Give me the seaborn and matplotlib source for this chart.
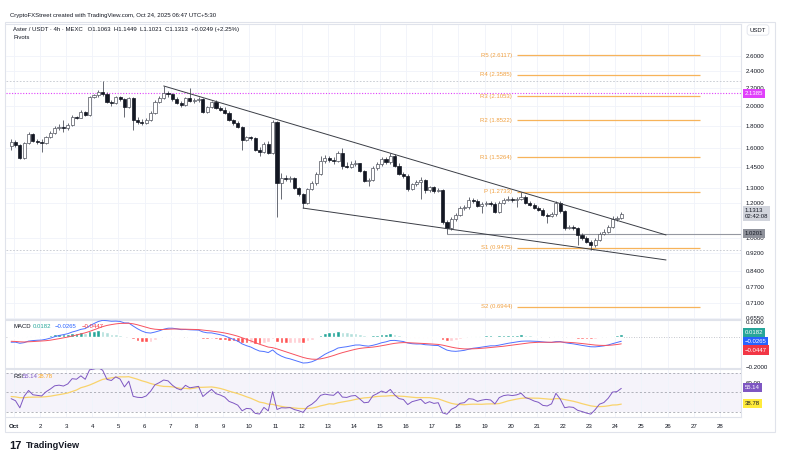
import numpy as np
import pandas as pd
import seaborn as sns
import matplotlib.pyplot as plt
import matplotlib.transforms as mtransforms
from matplotlib.ticker import NullLocator, NullFormatter
from matplotlib.patches import Rectangle

# Aster / USDT, MEXC, 4h candles; first candle opens Sep 30 21:30 (UTC+5:30)
first_open = 1.619
closes = [1.653, 1.627, 1.520, 1.645, 1.724, 1.662, 1.653, 1.645, 1.697, 1.734,
          1.780, 1.789, 1.780, 1.808, 1.886, 1.881, 1.936, 1.906, 2.096, 2.118,
          2.152, 2.130, 2.041, 2.030, 2.096, 2.074, 1.988, 2.085, 1.856, 1.837,
          1.832, 1.856, 1.926, 2.041, 2.085, 2.141, 2.130, 2.074, 2.030, 2.009,
          2.085, 2.052, 2.063, 2.074, 1.936, 1.988, 2.041, 1.978, 1.957, 1.926,
          1.856, 1.827, 1.789, 1.671, 1.697, 1.688, 1.585, 1.568, 1.636, 1.560,
          1.837, 1.333, 1.368, 1.361, 1.368, 1.298, 1.258, 1.200, 1.291, 1.333,
          1.397, 1.496, 1.520, 1.504, 1.496, 1.560, 1.457, 1.450, 1.473, 1.480,
          1.420, 1.347, 1.354, 1.442, 1.473, 1.512, 1.488, 1.536, 1.457, 1.397,
          1.383, 1.291, 1.326, 1.340, 1.354, 1.285, 1.305, 1.278, 1.285, 1.086,
          1.052, 1.103, 1.126, 1.168, 1.175, 1.219, 1.212, 1.181, 1.193, 1.200,
          1.193, 1.144, 1.200, 1.219, 1.225, 1.219, 1.225, 1.238, 1.200, 1.187,
          1.168, 1.156, 1.126, 1.120, 1.132, 1.200, 1.150, 1.052, 1.058, 1.052,
          1.014, 0.998, 0.977, 0.962, 0.987, 1.020, 1.030, 1.058, 1.103, 1.1063,
          1.1313]
highs = [1.680, 1.671, 1.636, 1.653, 1.743, 1.734, 1.680, 1.680, 1.706, 1.752,
         1.799, 1.818, 1.856, 1.827, 1.906, 1.896, 1.957, 1.947, 2.107, 2.130,
         2.175, 2.280, 2.152, 2.063, 2.107, 2.107, 2.085, 2.096, 2.096, 1.886,
         1.866, 1.876, 1.947, 2.063, 2.107, 2.221, 2.164, 2.141, 2.096, 2.052,
         2.096, 2.198, 2.085, 2.096, 2.085, 1.999, 2.052, 2.063, 1.999, 1.988,
         1.947, 1.866, 1.846, 1.799, 1.706, 1.706, 1.697, 1.610, 1.653, 1.662,
         1.856, 1.846, 1.405, 1.390, 1.383, 1.375, 1.305, 1.265, 1.298, 1.347,
         1.412, 1.536, 1.544, 1.536, 1.528, 1.577, 1.602, 1.488, 1.496, 1.504,
         1.480, 1.427, 1.368, 1.457, 1.488, 1.528, 1.528, 1.560, 1.552, 1.480,
         1.412, 1.397, 1.333, 1.354, 1.375, 1.361, 1.312, 1.312, 1.298, 1.291,
         1.097, 1.114, 1.138, 1.181, 1.187, 1.238, 1.232, 1.225, 1.206, 1.212,
         1.212, 1.206, 1.212, 1.232, 1.245, 1.238, 1.238, 1.271, 1.251, 1.212,
         1.200, 1.181, 1.168, 1.138, 1.144, 1.212, 1.212, 1.156, 1.069, 1.069,
         1.058, 1.025, 1.009, 0.987, 0.998, 1.030, 1.047, 1.069, 1.120, 1.120,
         1.1449]
lows = [1.585, 1.610, 1.512, 1.512, 1.636, 1.653, 1.636, 1.568, 1.636, 1.688,
        1.724, 1.761, 1.743, 1.761, 1.799, 1.866, 1.876, 1.896, 1.896, 2.085,
        2.096, 2.107, 2.030, 1.999, 2.020, 2.052, 1.886, 1.978, 1.761, 1.818,
        1.808, 1.818, 1.846, 1.916, 2.030, 2.074, 2.096, 2.052, 2.020, 1.988,
        1.999, 2.041, 2.030, 2.041, 1.926, 1.926, 1.978, 1.967, 1.947, 1.916,
        1.846, 1.808, 1.780, 1.585, 1.662, 1.671, 1.577, 1.536, 1.560, 1.552,
        1.552, 1.114, 1.225, 1.347, 1.340, 1.291, 1.245, 1.168, 1.193, 1.285,
        1.319, 1.390, 1.480, 1.488, 1.473, 1.488, 1.435, 1.442, 1.442, 1.457,
        1.412, 1.340, 1.312, 1.347, 1.427, 1.457, 1.473, 1.473, 1.450, 1.390,
        1.368, 1.278, 1.285, 1.312, 1.225, 1.265, 1.271, 1.265, 1.271, 1.074,
        1.0201, 1.041, 1.091, 1.120, 1.156, 1.162, 1.200, 1.175, 1.138, 1.181,
        1.181, 1.138, 1.138, 1.193, 1.212, 1.206, 1.175, 1.219, 1.193, 1.181,
        1.162, 1.150, 1.120, 1.080, 1.114, 1.120, 1.138, 1.041, 1.047, 1.041,
        0.962, 0.987, 0.972, 0.937, 0.952, 0.982, 1.014, 1.025, 1.052, 1.091,
        1.1021]

# indicator readings at the left edge of the chart (state carried in from before Oct 1)
macd_start, signal_start = -0.038, -0.027
slow_ema_start = 1.689
rsi_gain_start, rsi_loss_start = 0.016, 0.024
rsi_ma_start = 46.0

# weekly pivots (week starting Oct 20 05:30), days counted from Oct 1 00:00
pivot_names = ['R5', 'R4', 'R3', 'R2', 'R1', 'P', 'S1', 'S2']
pivot_values = [2.6117, 2.3585, 2.1053, 1.8522, 1.5264, 1.2733, 0.9475, 0.6944]
week_start, week_end = 19.23, 26.23

# drawings
upper_trend_x, upper_trend_y = [5.73, 24.94], [2.221, 1.014]
lower_trend_x, lower_trend_y = [11.06, 24.94], [1.168, 0.889]
support_level, support_from = 1.0201, 16.56
alert_level = 2.1385

price_ticks = [2.6, 2.4, 2.2, 2.0, 1.8, 1.6, 1.45, 1.3, 1.2, 1.0, 0.92, 0.84, 0.77, 0.71, 0.655]
date_labels = ['Oct'] + [str(d) for d in range(2, 29)]

sns.set_style('white')
plt.rcParams['font.family'] = ['Liberation Sans', 'DejaVu Sans']

W, H = 787, 463
fig = plt.figure(figsize=(W / 100, H / 100), dpi=100)


def box(x0, y0, x1, y1):
    return [x0 / W, 1 - y1 / H, (x1 - x0) / W, (y1 - y0) / H]


def px_day(x):
    return (x - 13.85) / 26.15


def ftext(x, y, s, **kw):
    fig.text(x / W, 1 - y / H, s, va='center', ha='left', **kw)


def ema(values, span, start):
    alpha = 2 / (span + 1)
    out, prev = [], start
    for v in values:
        prev = prev + alpha * (v - prev)
        out.append(prev)
    return np.array(out)


dark = '#131722'
grid_c = '#f0f3fa'
ax = fig.add_axes(box(6, 24, 741, 319))
ax_macd = fig.add_axes(box(6, 320, 741, 368), sharex=ax)
ax_rsi = fig.add_axes(box(6, 369, 741, 417), sharex=ax)

closes = np.array(closes)
highs = np.array(highs)
lows = np.array(lows)
opens = np.r_[first_open, closes[:-1]]
t = -2.5 / 24 + np.arange(len(closes)) / 6
up = closes >= opens

# --- price pane ---
ax.set_yscale('log')
edge = '#50535e'
ax.vlines(t, lows, highs, color=edge, lw=0.6, zorder=3)
body_lo = np.minimum(opens, closes)
body_h = np.maximum(np.abs(closes - opens), body_lo * 0.004)
ax.bar(t[up], body_h[up], bottom=body_lo[up], width=0.12, color='white',
       edgecolor=edge, linewidth=0.5, zorder=4)
ax.bar(t[~up], body_h[~up], bottom=body_lo[~up], width=0.12, color=dark,
       edgecolor=dark, linewidth=0.5, zorder=4)

for name, v in zip(pivot_names, pivot_values):
    ax.hlines(v, week_start, week_end, color='#f7b35a', lw=0.9, zorder=2)
    ax.text(week_start - 0.18, v, f'{name} ({v:.4f})', ha='right', va='center',
            fontsize=4.3, color='#f0a040', zorder=5)

ax.plot(upper_trend_x, upper_trend_y, color='#3a3d45', lw=0.7, zorder=5)
ax.plot(lower_trend_x, lower_trend_y, color='#3a3d45', lw=0.7, zorder=5)
ax.hlines(support_level, support_from, px_day(741), color='#9598a1', lw=0.8, zorder=2)
ax.axhline(alert_level, color='#e040fb', ls=(0, (1, 1.5)), lw=0.8, zorder=2)
ax.axhline(highs.max(), color='#c3c6ce', ls=(0, (2, 2)), lw=0.6, zorder=1)
ax.axhline(lows.min(), color='#c3c6ce', ls=(0, (2, 2)), lw=0.6, zorder=1)

ax.set_ylim(0.6516, 3.077)
ax.yaxis.tick_right()
ax.set_yticks(price_ticks)
ax.set_yticklabels([f'{v:.4f}' for v in price_ticks])
ax.yaxis.set_minor_locator(NullLocator())
ax.yaxis.set_minor_formatter(NullFormatter())
ax.grid(True, color=grid_c, lw=0.6)
ax.set_axisbelow(True)


def tag(axis, y, text, bg, fg='white', dy=0, va='center'):
    tr = mtransforms.blended_transform_factory(axis.transAxes, axis.transData)
    axis.annotate(text, xy=(1.0, y), xycoords=tr, xytext=(2.6, dy),
                  textcoords='offset points', ha='left', va=va, fontsize=4.3,
                  color=fg, annotation_clip=False, zorder=10, linespacing=1.3,
                  bbox=dict(boxstyle='square,pad=0.35', fc=bg, ec='none'))


tag(ax, alert_level, f'{alert_level:.4f}', '#e040fb')
tag(ax, closes[-1], f'{closes[-1]:.4f}\n02:42:08', '#d1d4dc', fg=dark, dy=4.5, va='top')
tag(ax, support_level, f'{support_level:.4f}', '#8f929b', fg=dark)

# --- MACD (12, 26, 9) pane ---
fast = ema(closes, 12, slow_ema_start + macd_start)
slow = ema(closes, 26, slow_ema_start)
macd = fast - slow
signal = ema(macd, 9, signal_start)
hist = macd - signal
prev = np.r_[macd_start - signal_start, hist[:-1]]
hist_colors = np.where(hist >= 0, np.where(hist > prev, '#26a69a', '#b2dfdb'),
                       np.where(hist < prev, '#ff5252', '#ffcdd2'))
ax_macd.axhline(0, color='#b2b5be', ls=(0, (1, 2)), lw=0.6, zorder=1)
ax_macd.bar(t, hist, width=0.14, color=hist_colors, zorder=2)
sns.lineplot(x=t, y=macd, ax=ax_macd, color='#4f72ff', lw=0.7, zorder=3)
sns.lineplot(x=t, y=signal, ax=ax_macd, color='#f7525f', lw=0.7, zorder=3)
ax_macd.set_ylim(-0.2067, 0.1133)
ax_macd.yaxis.tick_right()
ax_macd.set_yticks([0.1, -0.2])
ax_macd.set_yticklabels(['0.1000', '\u22120.2000'])
ax_macd.grid(True, axis='x', color=grid_c, lw=0.6)
tag(ax_macd, 0.0287, '0.0182', '#26a69a')
tag(ax_macd, -0.0287, '\u22120.0265', '#2962ff')
tag(ax_macd, -0.0867, '\u22120.0447', '#f23645')

# --- RSI (14) pane with 14-period MA ---
delta = np.diff(np.r_[first_open, closes])
avg_gain, avg_loss = [], []
g, l = rsi_gain_start, rsi_loss_start
for d in delta:
    g += (max(d, 0) - g) / 14
    l += (max(-d, 0) - l) / 14
    avg_gain.append(g)
    avg_loss.append(l)
rsi = 100 - 100 / (1 + np.array(avg_gain) / np.array(avg_loss))
rsi_ma = pd.Series(np.r_[np.full(13, rsi_ma_start), rsi]).rolling(14).mean().values[13:]

ax_rsi.axhspan(30, 70, color='#7e57c2', alpha=0.07, lw=0, zorder=0)
for lvl in (70, 50, 30):
    ax_rsi.axhline(lvl, color='#9598a1', ls=(0, (3, 3)), lw=0.5, zorder=1)
sns.lineplot(x=t, y=rsi_ma, ax=ax_rsi, color='#f9d36b', lw=0.9, zorder=2)
sns.lineplot(x=t, y=rsi, ax=ax_rsi, color='#7e57c2', lw=0.7, zorder=3)
ax_rsi.set_ylim(24.87, 74.1)
ax_rsi.yaxis.tick_right()
ax_rsi.set_yticks([60])
ax_rsi.set_yticklabels(['60.00'])
ax_rsi.grid(True, axis='x', color=grid_c, lw=0.6)
tag(ax_rsi, 55.14, '55.14', '#7e57c2')
tag(ax_rsi, 38.78, '38.78', '#ffeb3b', fg=dark)

# --- shared axes styling ---
ax_rsi.set_xlim(px_day(6), px_day(741))
ax_rsi.set_xticks(np.arange(28))
ax_rsi.set_xticklabels(date_labels)
ax_rsi.get_xticklabels()[0].set_fontweight('bold')
for a in (ax, ax_macd, ax_rsi):
    a.set_xlabel('')
    a.set_ylabel('')
    a.tick_params(axis='both', length=0, labelsize=4.4, labelcolor=dark, pad=3.5)
    for side, sp in a.spines.items():
        sp.set_color('#e0e3eb')
        sp.set_linewidth(0.8)
    a.spines['left'].set_visible(False)
ax.tick_params(labelbottom=False)
ax_macd.tick_params(labelbottom=False)
ax_rsi.tick_params(axis='x', pad=5)

fig.patches.append(Rectangle((5 / W, 1 - 432 / H), 770 / W, 410 / H, transform=fig.transFigure,
                             fill=False, ec='#e0e3eb', lw=0.8))

# --- texts ---
ftext(10, 16, 'CryptoFXStreet created with TradingView.com, Oct 24, 2025 06:47 UTC+5:30',
      fontsize=4.3, color=dark)
ftext(13, 29.5, 'Aster / USDT \u00b7 4h \u00b7 MEXC   O1.1063  H1.1449  L1.1021  C1.1313  +0.0249 (+2.25%)',
      fontsize=4.3, color=dark)
ftext(13, 37.5, 'Pivots', fontsize=4.3, color=dark)
fig.text(758 / W, 1 - 30 / H, 'USDT', ha='center', va='center', fontsize=4.3, color=dark,
         bbox=dict(boxstyle='round,pad=0.45', fc='white', ec='#e0e3eb', lw=0.6))
ftext(14, 326.5, 'MACD', fontsize=4.3, color=dark)
ftext(32.5, 326.5, '0.0182', fontsize=4.3, color='#26a69a')
ftext(55, 326.5, '\u22120.0265', fontsize=4.3, color='#2962ff')
ftext(82, 326.5, '\u22120.0447', fontsize=4.3, color='#f23645')
ftext(14, 376, 'RSI', fontsize=4.3, color=dark)
ftext(23, 376, '55.14', fontsize=4.3, color='#7e57c2')
ftext(37.5, 376, '38.78', fontsize=4.3, color='#f9a825')
ftext(9, 446, '17', fontsize=8, color=dark, fontweight='heavy')
ftext(26, 446, 'TradingView', fontsize=6.6, color=dark, fontweight='bold')

fig.savefig('out.png', dpi=100, facecolor='white')
